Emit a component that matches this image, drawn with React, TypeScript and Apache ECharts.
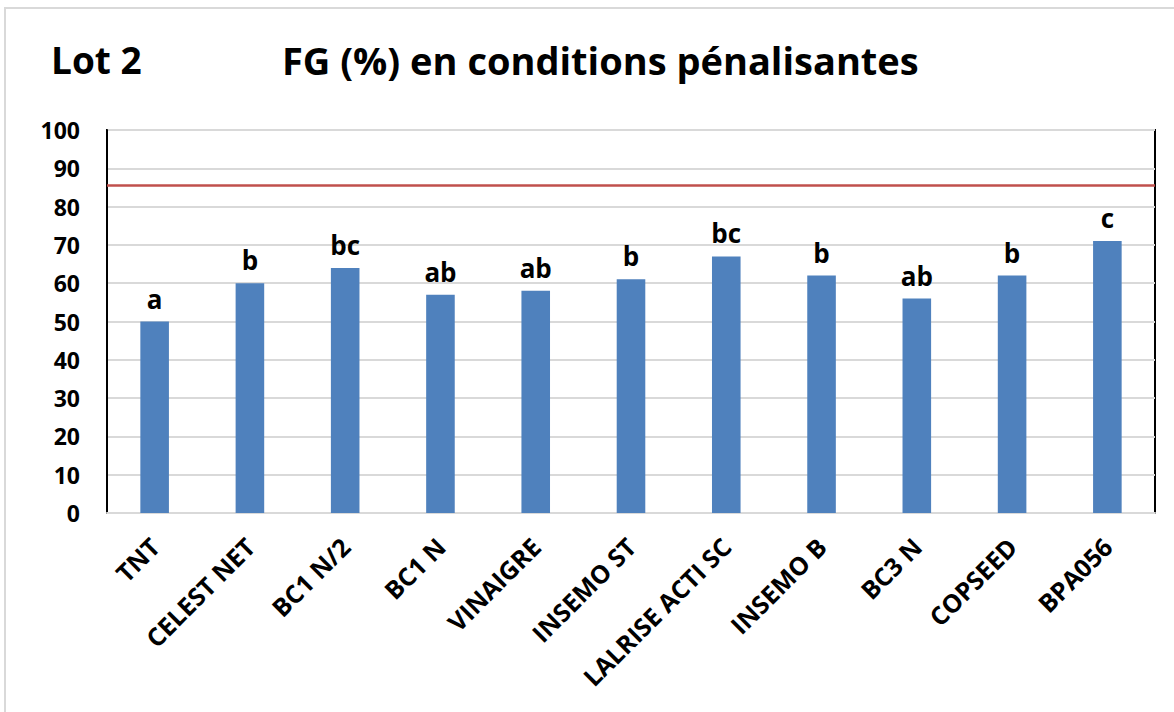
import React, { useEffect, useRef } from "react";
import * as echarts from "echarts";

const categories = [
  "TNT",
  "CELEST NET",
  "BC1 N/2",
  "BC1 N",
  "VINAIGRE",
  "INSEMO ST",
  "LALRISE ACTI SC",
  "INSEMO B",
  "BC3 N",
  "COPSEED",
  "BPA056",
];
const values = [50, 60, 64, 57, 58, 61, 67, 62, 56, 62, 71];
const letters = ["a", "b", "bc", "ab", "ab", "b", "bc", "b", "ab", "b", "c"];
const thresholdValue = 85.5;
const yTicks = { min: 0, max: 100, interval: 10 };

const FONT = "'Open Sans', 'Noto Sans', sans-serif";

export default function App() {
  const ref = useRef<HTMLDivElement>(null);
  useEffect(() => {
    if (!ref.current) return;
    const chart = echarts.init(ref.current, undefined, { renderer: "svg" });
    chart.setOption({
      animation: false,
      backgroundColor: "#ffffff",
      textStyle: { fontFamily: FONT },
      graphic: [
        {
          type: "polyline",
          shape: { points: [[5, 712], [5, 8], [1174, 8]] },
          style: { fill: "none", stroke: "#d9d9d9", lineWidth: 2 },
          z: -10,
        },
        {
          type: "text",
          left: 51,
          top: 41,
          style: {
            text: "Lot 2",
            fontSize: 37,
            fontWeight: "bold",
            fontFamily: FONT,
            fill: "#000",
          },
        },
        {
          type: "text",
          left: 282,
          top: 41,
          style: {
            text: "FG (%) en conditions pénalisantes",
            fontSize: 38,
            fontWeight: "bold",
            fontFamily: FONT,
            fill: "#000",
          },
        },
      ],
      grid: {
        left: 107,
        right: 19,
        top: 130,
        bottom: 199,
        show: true,
        borderColor: "#000",
        borderWidth: 2,
        backgroundColor: "transparent",
      },
      xAxis: {
        type: "category",
        data: categories,
        axisTick: { show: false },
        axisLine: { show: true, lineStyle: { color: "#d9d9d9", width: 2 } },
        axisLabel: {
          rotate: 45,
          interval: 0,
          margin: 29,
          fontSize: 25,
          fontWeight: "bold",
          color: "#000",
          fontFamily: FONT,
        },
      },
      yAxis: {
        type: "value",
        min: yTicks.min,
        max: yTicks.max,
        interval: yTicks.interval,
        axisLine: { show: true, lineStyle: { color: "#000", width: 2 } },
        axisTick: { show: false },
        splitLine: { lineStyle: { color: "#d9d9d9", width: 2 } },
        axisLabel: {
          margin: 27,
          fontSize: 23,
          fontWeight: "bold",
          color: "#000",
          fontFamily: FONT,
        },
      },
      series: [
        {
          type: "bar",
          data: values,
          barWidth: "30%",
          itemStyle: { color: "#4F81BD" },
          label: {
            show: true,
            position: "top",
            distance: 10,
            formatter: (p: any) => letters[p.dataIndex],
            fontSize: 26,
            fontWeight: "bold",
            color: "#000",
            fontFamily: FONT,
          },
          markLine: {
            silent: true,
            symbol: ["none", "none"],
            label: { show: false },
            lineStyle: { color: "#C0504D", width: 2.5, type: "solid" },
            data: [{ yAxis: thresholdValue }],
          },
        },
      ],
    });
    return () => chart.dispose();
  }, []);
  return (
    <div
      ref={ref}
      style={{ position: "fixed", left: 0, top: 0, width: 1174, height: 712 }}
    />
  );
}
